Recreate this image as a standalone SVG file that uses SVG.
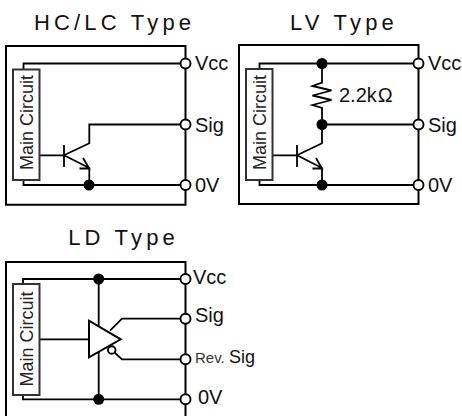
<svg xmlns="http://www.w3.org/2000/svg" width="462" height="416" viewBox="0 0 462 416">
<style>
.l{fill:none;stroke:#000;stroke-width:1.8}
.f{fill:none;stroke:#000;stroke-width:2}
.b{fill:#fff;stroke:#333;stroke-width:2}
.o{fill:#fff;stroke:#000;stroke-width:1.9}
.d{fill:#000}
text{font-family:"Liberation Sans",Arial,sans-serif;fill:#111}
.t{font-size:22px;letter-spacing:4.2px;text-anchor:middle}
.s{font-size:20px}
.m{font-size:18px;text-anchor:middle;fill:#222}
</style>
<text class="t" x="114.600" y="29.500">HC/LC Type</text>
<text class="t" x="344" y="29.500">LV Type</text>
<text class="t" x="123.600" y="245">LD Type</text>
<g id="connectors">
<path class="l" d="M23.500 69V63.500H185.500M23.500 180V185H185.500M39 155.300H64M64 145V167M64 155.300L89.300 143.300V124.500H185.500M64 155.300L89.300 168V185M79.500 168.500H89.300L83 158"/>
<path class="l" d="M259.500 69V63.500H418.500M259.500 180V185H418.500M272.500 155.300H297M297 145V167M297 155.300L322 143.300V124.500H418.500M322 124.500V108L312.500 105L331.500 100L312.500 95.500L331.500 90.500L312.500 86L322 82.500V63.500M297 155.300L322 168V185M312.500 168.500H322L316 158"/>
<path class="l" d="M23 284V279H185.500M23 395V399.300H185.500M98.700 279V326M98.700 352V399.300M39.500 339.300H89M110 330.700L122 318.700H185.500M114.500 352.500L122 359.300H185.500"/>
</g>
<g id="hc-lc"><path class="f" d="M185.500 63.500V46H6V204.700H185.500V190M185.500 68V119M185.500 130V180"/>
<rect class="b" x="13" y="69.500" width="26.500" height="110.500"/>
<text class="m" transform="translate(32.500 122.500) rotate(-90)">Main Circuit</text>
<circle class="d" cx="89" cy="185" r="5.500"/>
<circle class="o" cx="185.500" cy="63.500" r="5"/><circle class="o" cx="185.500" cy="124.500" r="5"/><circle class="o" cx="185.500" cy="185" r="5"/>
<text class="s" x="195" y="70">Vcc</text><text class="s" x="195" y="131.500">Sig</text><text class="s" x="195" y="191.500">0V</text></g>
<g id="lv"><path class="f" d="M418.500 63.500V45H239V204H418.500V190M418.500 68V119M418.500 130V180"/>
<rect class="b" x="246" y="69" width="26.500" height="111"/>
<text class="m" transform="translate(266 122.500) rotate(-90)">Main Circuit</text>
<circle class="d" cx="322" cy="63.500" r="5.500"/><circle class="d" cx="322" cy="124.500" r="5.500"/><circle class="d" cx="322" cy="185" r="5.500"/>
<circle class="o" cx="418.500" cy="63.500" r="5"/><circle class="o" cx="418.500" cy="124.500" r="5"/><circle class="o" cx="418.500" cy="185" r="5"/>
<text class="s" x="428" y="70">Vcc</text><text class="s" x="428" y="131.500">Sig</text><text class="s" x="428" y="191.500">0V</text>
<text class="s" x="339" y="101.500">2.2k<tspan dx="1">Ω</tspan></text></g>
<g id="ld"><path class="f" d="M6 416V262H185.500V416"/>
<rect class="b" x="13" y="284" width="26.500" height="111"/>
<text class="m" transform="translate(32.500 339) rotate(-90)">Main Circuit</text>
<path fill="#fff" stroke="#000" stroke-width="2" d="M89 320.700V357.300L120.700 339.300Z"/>
<circle class="o" cx="111.700" cy="350" r="3.800"/>
<circle class="d" cx="98.700" cy="279" r="5.500"/><circle class="d" cx="98.700" cy="399.300" r="5.500"/>
<circle class="o" cx="185.500" cy="279" r="5"/><circle class="o" cx="185.500" cy="318.700" r="5"/><circle class="o" cx="185.500" cy="359.300" r="5"/><circle class="o" cx="185.500" cy="399.300" r="5"/>
<text class="s" x="193" y="284">Vcc</text><text class="s" x="195" y="322">Sig</text><text x="195" y="363"><tspan font-size="15px" fill="#333">Rev. </tspan><tspan font-size="18px">Sig</tspan></text><text class="s" x="198" y="404">0V</text></g>
</svg>
